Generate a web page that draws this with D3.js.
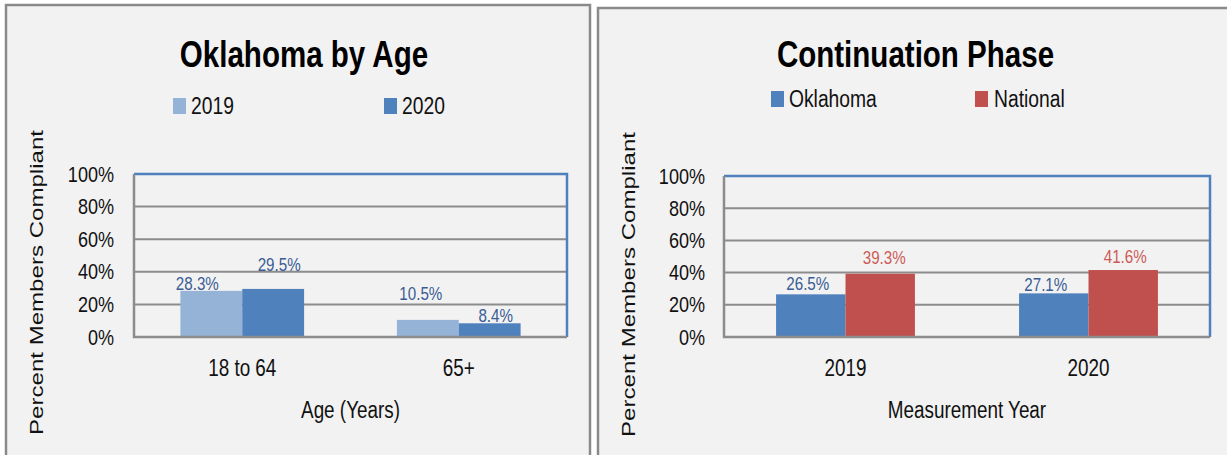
<!DOCTYPE html>
<html>
<head>
<meta charset="utf-8">
<script src="https://cdn.jsdelivr.net/npm/d3@7"></script>
<style>
  html, body { margin: 0; padding: 0; background: #ffffff; }
  svg { display: block; }
  text { font-family: "Liberation Sans", Arial, sans-serif; }
</style>
</head>
<body>
<svg id="chart" width="1227" height="455"></svg>
<script>
// ---- Data -------------------------------------------------------------
const ageCategories = ["18 to 64", "65+"];
const ageSeries = ["2019", "2020"];
const ageValues = [            // rows follow ageCategories, columns follow ageSeries
  [28.3, 29.5],
  [10.5, 8.4]
];

const yearCategories = ["2019", "2020"];
const yearSeries = ["Oklahoma", "National"];
const yearValues = [           // rows follow yearCategories, columns follow yearSeries
  [26.5, 39.3],
  [27.1, 41.6]
];

const yTicks = [0, 20, 40, 60, 80, 100];
const yTickLabels = ["0%", "20%", "40%", "60%", "80%", "100%"];

// ---- Styling / layout -----------------------------------------------------
const svg = d3.select("#chart");
const BORDER = "#8a8a8a";
const PANEL_BG = "#f2f2f2";
const GRID = "#8c8c8c";
const FRAME = "#4f81bd";
const TEXT = "#111111";
const CONDENSE = 0.82;   // horizontal squeeze giving a condensed face

// squeeze each text horizontally to a condensed width
function condense(sel) {
  sel.each(function () {
    const w = this.getComputedTextLength();
    d3.select(this)
      .attr("textLength", w * CONDENSE)
      .attr("lengthAdjust", "spacingAndGlyphs");
  });
}

// label nudges (dx, dy) relative to bar centre / bar top, per category & series
const ageLabelNudge = [[[-14, -1], [6, -18]], [[-7, -20], [6, -1]]];
const yearLabelNudge = [[[-3, -4], [4, -10]], [[-8, -2], [2, -7]]];

const panels = [
  {
    box: { x: 6, y: 5, w: 584, h: 470 },
    title: "Oklahoma by Age", titleX: 304, titleY: 67,
    legend: [{ sx: 173, tx: 191 }, { sx: 384, tx: 402 }], legendY: 114,
    plot: { x0: 134, x1: 567, y0: 174, y1: 337 },
    tickRight: 114,
    yTitleX: 43, yTitleY: 282.5,
    xTitle: "Age (Years)",
    categories: ageCategories, series: ageSeries, values: ageValues,
    colors: ["#95b3d7", "#4f81bd"],
    labelColors: ["#3a5c94", "#3a5c94"],
    nudge: ageLabelNudge
  },
  {
    box: { x: 598, y: 8, w: 650, h: 470 },
    title: "Continuation Phase", titleX: 915.5, titleY: 67,
    legend: [{ sx: 771, tx: 789 }, { sx: 975, tx: 994 }], legendY: 107,
    plot: { x0: 724, x1: 1210, y0: 176, y1: 337 },
    tickRight: 705,
    yTitleX: 635, yTitleY: 284.5,
    xTitle: "Measurement Year",
    categories: yearCategories, series: yearSeries, values: yearValues,
    colors: ["#4f81bd", "#c0504d"],
    labelColors: ["#3a5c94", "#cc5a56"],
    nudge: yearLabelNudge
  }
];

function drawPanel(p) {
  const g = svg.append("g");

  // panel background and border
  g.append("rect")
    .attr("x", p.box.x).attr("y", p.box.y)
    .attr("width", p.box.w).attr("height", p.box.h)
    .attr("fill", PANEL_BG)
    .attr("stroke", BORDER).attr("stroke-width", 2.5);

  // title
  g.append("text")
    .attr("x", p.titleX).attr("y", p.titleY)
    .attr("text-anchor", "middle")
    .attr("font-size", 36).attr("font-weight", "bold")
    .attr("fill", "#000")
    .text(p.title)
    .call(condense);

  // legend
  p.series.forEach((s, i) => {
    g.append("rect")
      .attr("x", p.legend[i].sx).attr("y", p.legendY - 16)
      .attr("width", 13).attr("height", 16)
      .attr("fill", p.colors[i]);
    g.append("text")
      .attr("x", p.legend[i].tx).attr("y", p.legendY)
      .attr("font-size", 23.5).attr("fill", TEXT)
      .text(s)
      .call(condense);
  });

  // scales
  const x = d3.scaleBand()
    .domain(p.categories)
    .range([p.plot.x0, p.plot.x1])
    .paddingInner(1.5 / 3.5)
    .paddingOuter(0.75 / 3.5);
  const xs = d3.scaleBand()
    .domain(p.series)
    .range([0, x.bandwidth()]);
  const y = d3.scaleLinear()
    .domain([0, 100])
    .range([p.plot.y1, p.plot.y0]);

  // gridlines
  g.append("g")
    .selectAll("line")
    .data(yTicks)
    .join("line")
    .attr("x1", p.plot.x0).attr("x2", p.plot.x1)
    .attr("y1", d => y(d)).attr("y2", d => y(d))
    .attr("stroke", GRID).attr("stroke-width", 2);

  // y axis tick labels
  const yAxis = d3.axisLeft(y)
    .tickValues(yTicks)
    .tickSize(0)
    .tickPadding(0)
    .tickFormat((d, i) => yTickLabels[i]);
  const ya = g.append("g")
    .attr("transform", `translate(${p.tickRight},0)`)
    .call(yAxis);
  ya.select(".domain").remove();
  ya.selectAll("text")
    .attr("font-size", 22).attr("fill", TEXT)
    .attr("font-family", null)
    .call(condense);

  // bars
  const rows = p.categories.flatMap((c, ci) =>
    p.series.map((s, si) => ({ c, ci, s, si, v: p.values[ci][si] })));

  g.append("g")
    .selectAll("rect")
    .data(rows)
    .join("rect")
    .attr("x", d => x(d.c) + xs(d.s))
    .attr("y", d => y(d.v))
    .attr("width", xs.bandwidth())
    .attr("height", d => y(0) - y(d.v))
    .attr("fill", d => p.colors[d.si]);

  // plot frame: blue top and right, grey axis lines left and bottom
  g.append("path")
    .attr("d", `M${p.plot.x0},${p.plot.y0}H${p.plot.x1}V${p.plot.y1}`)
    .attr("fill", "none").attr("stroke", FRAME).attr("stroke-width", 2.5);
  g.append("path")
    .attr("d", `M${p.plot.x0},${p.plot.y0}V${p.plot.y1}H${p.plot.x1}`)
    .attr("fill", "none").attr("stroke", GRID).attr("stroke-width", 2.5);

  // data labels
  g.append("g")
    .selectAll("text")
    .data(rows)
    .join("text")
    .attr("x", d => x(d.c) + xs(d.s) + xs.bandwidth() / 2 + p.nudge[d.ci][d.si][0])
    .attr("y", d => y(d.v) + p.nudge[d.ci][d.si][1])
    .attr("text-anchor", "middle")
    .attr("font-size", 18.5)
    .attr("fill", d => p.labelColors[d.si])
    .text(d => d.v.toFixed(1) + "%")
    .call(condense);

  // category axis labels
  const xAxis = d3.axisBottom(x).tickSize(0).tickPadding(0);
  const xa = g.append("g")
    .attr("transform", `translate(0,${p.plot.y1 + 23})`)
    .call(xAxis);
  xa.select(".domain").remove();
  xa.selectAll("text")
    .attr("font-size", 23).attr("fill", TEXT)
    .attr("font-family", null)
    .attr("dy", "0.71em")
    .call(condense);

  // x axis title
  g.append("text")
    .attr("x", (p.plot.x0 + p.plot.x1) / 2)
    .attr("y", 418)
    .attr("text-anchor", "middle")
    .attr("font-size", 23).attr("fill", TEXT)
    .text(p.xTitle)
    .call(condense);

  // y axis title
  g.append("text")
    .attr("transform", `translate(${p.yTitleX},${p.yTitleY}) rotate(-90)`)
    .attr("text-anchor", "middle")
    .attr("font-family", "'DejaVu Sans', sans-serif")
    .attr("font-size", 18)
    .attr("textLength", 305)
    .attr("lengthAdjust", "spacingAndGlyphs")
    .attr("fill", TEXT)
    .text("Percent Members Compliant");
}

panels.forEach(drawPanel);
</script>
</body>
</html>
